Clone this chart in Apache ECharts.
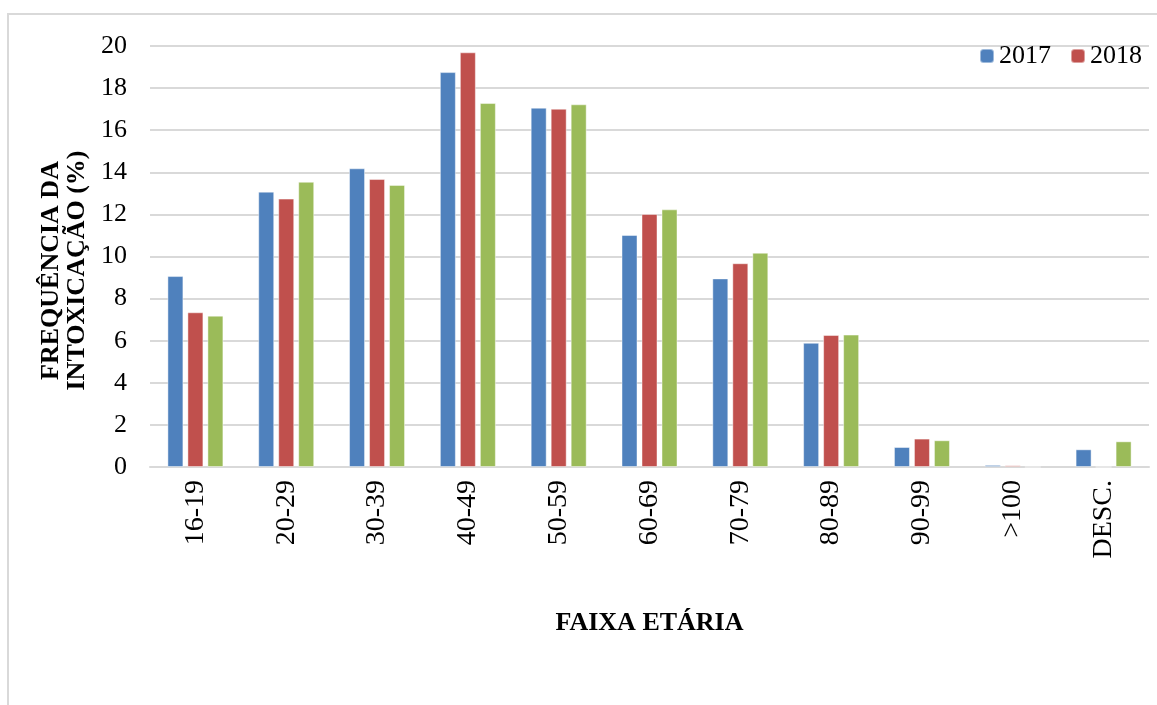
<!DOCTYPE html>
<html>
<head>
<meta charset="utf-8">
<script src="https://cdn.jsdelivr.net/npm/echarts@6/dist/echarts.min.js"></script>
<style>
  html, body { margin: 0; padding: 0; background: #fff; }
  #chart { width: 1157px; height: 705px; }
</style>
</head>
<body>
<div id="chart"></div>
<script>
const ageGroups = ["16-19", "20-29", "30-39", "40-49", "50-59", "60-69", "70-79", "80-89", "90-99", ">100", "DESC."];
const values2017 = [9.07, 13.08, 14.19, 18.76, 17.07, 11.02, 8.96, 5.9, 0.95, 0.1, 0.84];
const values2018 = [7.35, 12.75, 13.68, 19.7, 17.02, 12.02, 9.68, 6.27, 1.35, 0.08, 0];
const values2019 = [7.19, 13.55, 13.4, 17.29, 17.23, 12.24, 10.18, 6.29, 1.27, 0, 1.22];
const yTicks = { min: 0, max: 20, step: 2 };

const font = "'Liberation Serif', 'Times New Roman', serif";
const gridGray = "#d9d9d9";

const chart = echarts.init(document.getElementById("chart"));

function barSeries(name, data, color) {
  return {
    type: "bar",
    name: name,
    data: data,
    barWidth: 16,
    barGap: "25%",
    itemStyle: {
      color: color,
      borderColor: "rgba(255,255,255,0.45)",
      borderWidth: 1
    }
  };
}

const option = {
  animation: false,
  graphic: [
    {
      type: "rect",
      shape: { x: 8, y: 14, width: 1300, height: 900 },
      style: { fill: "none", stroke: gridGray, lineWidth: 2 },
      silent: true,
      z: -1
    }
  ],
  legend: {
    data: ["2017", "2018"],
    right: 10,
    top: 38,
    itemWidth: 14,
    itemHeight: 14,
    itemGap: 19,
    textStyle: { fontFamily: font, fontSize: 26, color: "#000" }
  },
  grid: { left: 150, right: 8, top: 46, bottom: 238 },
  xAxis: {
    type: "category",
    data: ageGroups,
    axisLine: { lineStyle: { color: gridGray, width: 2 } },
    axisTick: { show: false },
    axisLabel: {
      rotate: 90,
      margin: 13,
      fontFamily: font,
      fontSize: 28,
      color: "#000"
    },
    name: "FAIXA ETÁRIA",
    nameLocation: "middle",
    nameGap: 143,
    nameTextStyle: { fontFamily: font, fontSize: 26, fontWeight: "bold", color: "#000" }
  },
  yAxis: {
    type: "value",
    min: yTicks.min,
    max: yTicks.max,
    interval: yTicks.step,
    axisLine: { show: false },
    axisTick: { show: false },
    splitLine: { lineStyle: { color: gridGray, width: 2 } },
    axisLabel: {
      margin: 23,
      fontFamily: font,
      fontSize: 26,
      color: "#000"
    },
    name: "FREQUÊNCIA DA\nINTOXICAÇÃO (%)",
    nameLocation: "middle",
    nameRotate: 90,
    nameGap: 59,
    nameTextStyle: {
      fontFamily: font,
      fontSize: 26,
      fontWeight: "bold",
      color: "#000",
      lineHeight: 26,
      padding: [0, 28, 0, 0]
    }
  },
  series: [
    barSeries("2017", values2017, "#4f81bd"),
    barSeries("2018", values2018, "#c0504d"),
    barSeries("2019", values2019, "#9bbb59")
  ]
};

chart.setOption(option);
</script>
</body>
</html>
